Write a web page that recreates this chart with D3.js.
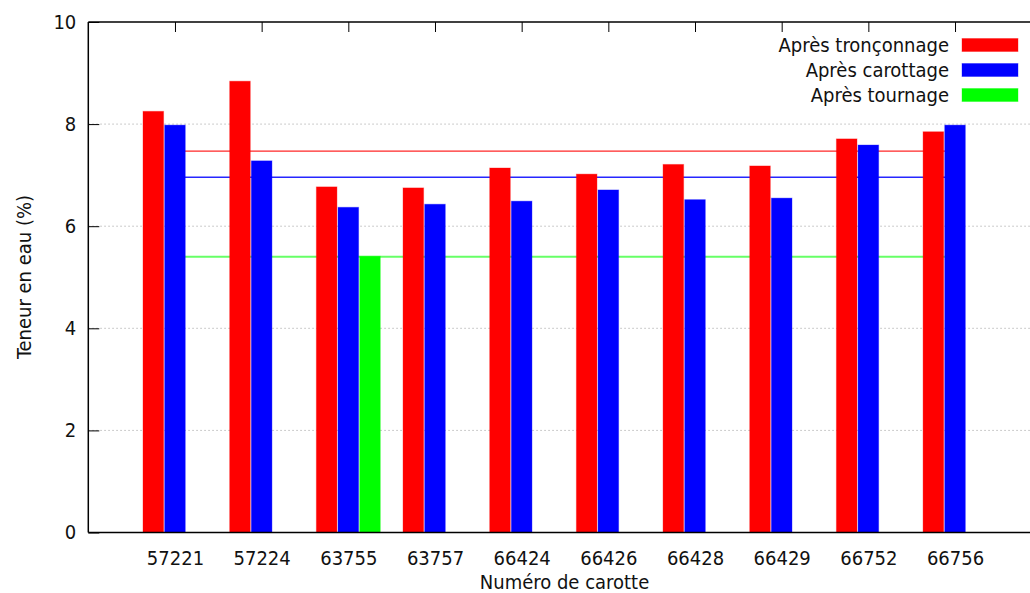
<!DOCTYPE html>
<html>
<head>
<meta charset="utf-8">
<script src="https://cdn.jsdelivr.net/npm/d3@7"></script>
<style>
  body { margin: 0; background: #fff; }
  svg { display: block; }
  text { font-family: "DejaVu Sans Condensed", "DejaVu Sans", sans-serif; font-stretch: condensed; fill: #111; }
</style>
</head>
<body>
<svg id="chart" width="1030" height="593"></svg>
<script>
const categories = ["57221","57224","63755","63757","66424","66426","66428","66429","66752","66756"];
const seriesNames = ["Après tronçonnage","Après carottage","Après tournage"];
const seriesColors = ["#ff0000","#0000ff","#00ff00"];
const tronconnage = [8.25, 8.84, 6.77, 6.75, 7.14, 7.02, 7.21, 7.18, 7.71, 7.85];
const carottage   = [7.98, 7.28, 6.37, 6.43, 6.49, 6.71, 6.52, 6.55, 7.59, 7.98];
const tournage    = [null, null, 5.41, null, null, null, null, null, null, null];
const meanLines   = [7.47, 6.96, 5.40];
const yTicks = [0, 2, 4, 6, 8, 10];
const xLabel = "Numéro de carotte";
const yLabel = "Teneur en eau (%)";

const series = [tronconnage, carottage, tournage];
const FS = "20px";

const svg = d3.select("#chart");
const pLeft = 88.3, pRight = 1041.7, pTop = 22, pBottom = 532.5;

const x = d3.scaleLinear().domain([-1, categories.length]).range([pLeft, pRight]);
const y = d3.scaleLinear().domain([0, 10]).range([pBottom, pTop]);
const slot = x(1) - x(0);
const barStep = slot / 4;
const barW = barStep * 0.95;

// grid
svg.append("g").selectAll("line").data(yTicks.filter(t => t > 0 && t < 10)).join("line")
  .attr("x1", pLeft).attr("x2", 1030)
  .attr("y1", d => y(d)).attr("y2", d => y(d))
  .attr("stroke", "#bbb").attr("stroke-width", 1).attr("stroke-dasharray", "1.5,2.5");

// mean lines (behind bars)
svg.append("g").selectAll("line").data(meanLines).join("line")
  .attr("x1", x(0)).attr("x2", x(categories.length - 1))
  .attr("y1", d => y(d)).attr("y2", d => y(d))
  .attr("stroke", (d, i) => seriesColors[i])
  .attr("stroke-opacity", (d, i) => i === 2 ? 0.6 : 0.85)
  .attr("stroke-width", (d, i) => i === 2 ? 2 : 1.4);

// bottom ticks (behind bars)
const xAxisB = d3.axisBottom(x).tickValues(d3.range(categories.length))
  .tickFormat(i => categories[i]).tickSizeInner(-10).tickSizeOuter(0).tickPadding(22);
const gxb = svg.append("g").attr("transform", `translate(0,${pBottom})`).call(xAxisB);
gxb.select(".domain").remove();
gxb.selectAll("line").attr("stroke", "#000");
gxb.selectAll("text").style("font-size", FS).attr("dy", "0.35em").attr("y", 25.5);

// bars
series.forEach((vals, s) => {
  svg.append("g").selectAll("rect")
    .data(vals.map((v, i) => ({v, i})).filter(d => d.v !== null))
    .join("rect")
    .attr("x", d => x(d.i) + (s - 1) * barStep - barW / 2)
    .attr("width", barW)
    .attr("y", d => y(d.v))
    .attr("height", d => y(0) - y(d.v))
    .attr("fill", seriesColors[s])
    .attr("stroke", seriesColors[s]).attr("stroke-opacity", 0.35).attr("stroke-width", 1);
});

// axes frame
svg.append("line").attr("x1", pLeft).attr("x2", pLeft).attr("y1", pTop).attr("y2", pBottom).attr("stroke", "#000").attr("stroke-width", 1.5);
svg.append("line").attr("x1", pLeft).attr("x2", 1030).attr("y1", pBottom).attr("y2", pBottom).attr("stroke", "#000").attr("stroke-width", 1.5);
svg.append("line").attr("x1", pLeft).attr("x2", 1030).attr("y1", pTop).attr("y2", pTop).attr("stroke", "#000").attr("stroke-width", 1.5);

// top ticks
const xAxisT = d3.axisTop(x).tickValues(d3.range(categories.length)).tickFormat("").tickSizeInner(-10).tickSizeOuter(0);
const gxt = svg.append("g").attr("transform", `translate(0,${pTop})`).call(xAxisT);
gxt.select(".domain").remove();
gxt.selectAll("line").attr("stroke", "#000");

// y axis
const yAxis = d3.axisLeft(y).tickValues(yTicks).tickFormat(d3.format("d")).tickSizeInner(-11).tickSizeOuter(0).tickPadding(12);
const gy = svg.append("g").attr("transform", `translate(${pLeft},0)`).call(yAxis);
gy.select(".domain").remove();
gy.selectAll("line").attr("stroke", "#000");
gy.selectAll("text").style("font-size", FS).attr("x", -12);

// axis labels
svg.append("text").attr("x", 564.5).attr("y", 589).attr("text-anchor", "middle")
  .style("font-size", FS).text(xLabel);
svg.append("text").attr("transform", "translate(31,277) rotate(-90)").attr("text-anchor", "middle")
  .style("font-size", FS).text(yLabel);

// legend
const lg = svg.append("g");
seriesNames.forEach((name, i) => {
  const cy = 45 + i * 25;
  lg.append("text").attr("x", 949).attr("y", cy).attr("dy", "0.36em").attr("text-anchor", "end")
    .style("font-size", FS).text(name);
  lg.append("rect").attr("x", 962).attr("y", cy - 6.5).attr("width", 56).attr("height", 13)
    .attr("fill", seriesColors[i]).attr("stroke", seriesColors[i]).attr("stroke-opacity", 0.35);
});
</script>
</body>
</html>
